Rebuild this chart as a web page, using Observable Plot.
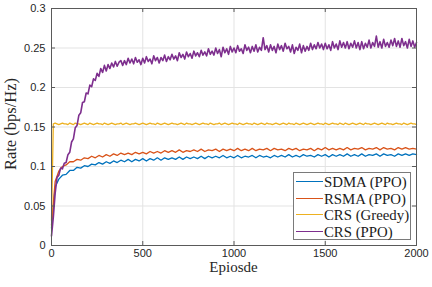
<!DOCTYPE html>
<html><head><meta charset="utf-8">
<script src="https://cdn.jsdelivr.net/npm/d3@7"></script>
<script src="https://cdn.jsdelivr.net/npm/@observablehq/plot@0.6"></script>
<style>
body{margin:0;background:#fff;}
#wrap{position:relative;width:432px;height:287px;overflow:hidden;background:#fff;}
.ttl{position:absolute;font-family:"Liberation Serif","Times New Roman",serif;color:#262626;white-space:nowrap;line-height:1;}
#legend{position:absolute;left:293px;top:172px;width:116px;height:66px;border:1px solid #7a7a7a;background:#fff;}
.row{position:absolute;left:0;height:16px;}
.row .sw{position:absolute;left:2px;top:7px;width:27px;height:0;border-top:1.6px solid;}
.row .tx{position:absolute;left:30px;top:0;font-family:"Liberation Serif","Times New Roman",serif;font-size:14.8px;line-height:16px;color:#1a1a1a;white-space:nowrap;}
</style></head><body><div id="wrap"></div>
<script>
const seriesNames = ["SDMA (PPO)", "RSMA (PPO)", "CRS (Greedy)", "CRS (PPO)"];
const seriesColors = ["#0072BD", "#D95319", "#EDB120", "#7E2F8E"];
const xTicks = [0, 500, 1000, 1500, 2000];
const yTicks = [0, 0.05, 0.1, 0.15, 0.2, 0.25, 0.3];
const xLabel = "Epiosde";
const yLabel = "Rate (bps/Hz)";

// episode spacing of each series (value i is at episode i*step)
const sdmaStep = 20, rsmaStep = 20, greedyStep = 10, crsPpoStep = 10;

const sdmaPPO = [
0.022,0.074,0.084,0.089,0.090,0.095,0.095,0.099,0.098,0.101,
0.100,0.103,0.102,0.105,0.103,0.106,0.104,0.107,0.105,0.108,
0.106,0.109,0.106,0.109,0.107,0.110,0.107,0.110,0.108,0.111,
0.108,0.111,0.109,0.111,0.109,0.112,0.109,0.112,0.110,0.112,
0.110,0.113,0.110,0.113,0.111,0.113,0.111,0.114,0.111,0.113,
0.111,0.114,0.111,0.113,0.112,0.114,0.111,0.114,0.112,0.113,
0.111,0.114,0.112,0.114,0.112,0.115,0.112,0.114,0.112,0.115,
0.113,0.114,0.112,0.115,0.113,0.115,0.112,0.115,0.113,0.115,
0.113,0.116,0.113,0.115,0.113,0.116,0.113,0.115,0.114,0.116,
0.113,0.116,0.114,0.115,0.113,0.116,0.114,0.116,0.114,0.116,
0.115];

const rsmaPPO = [
0.026,0.081,0.094,0.100,0.102,0.106,0.106,0.109,0.108,0.111,
0.110,0.113,0.111,0.114,0.112,0.115,0.113,0.116,0.114,0.117,
0.115,0.117,0.115,0.118,0.116,0.118,0.116,0.119,0.117,0.119,
0.117,0.120,0.118,0.120,0.118,0.121,0.118,0.120,0.119,0.121,
0.119,0.122,0.119,0.121,0.120,0.122,0.119,0.122,0.120,0.122,
0.120,0.123,0.120,0.122,0.120,0.123,0.120,0.122,0.121,0.123,
0.120,0.123,0.121,0.122,0.120,0.123,0.121,0.123,0.120,0.122,
0.121,0.123,0.120,0.123,0.121,0.124,0.121,0.123,0.121,0.123,
0.121,0.124,0.121,0.123,0.122,0.124,0.121,0.123,0.122,0.124,
0.121,0.124,0.122,0.123,0.121,0.124,0.122,0.124,0.122,0.123,
0.122];

const crsGreedy = [
0.032,
0.154,0.155,0.154,0.153,0.154,0.155,0.154,0.154,0.153,0.155,
0.154,0.153,0.155,0.154,0.154,0.153,0.154,0.155,0.154,0.153,
0.155,0.154,0.153,0.154,0.155,0.154,0.154,0.153,0.155,0.154,
0.153,0.154,0.155,0.154,0.153,0.154,0.154,0.155,0.153,0.154,
0.155,0.154,0.153,0.154,0.154,0.155,0.154,0.153,0.154,0.155,
0.154,0.153,0.154,0.155,0.154,0.154,0.153,0.155,0.154,0.153,
0.154,0.155,0.154,0.153,0.154,0.155,0.154,0.154,0.153,0.154,
0.155,0.154,0.153,0.155,0.154,0.154,0.153,0.154,0.155,0.154,
0.153,0.154,0.155,0.154,0.154,0.153,0.155,0.154,0.153,0.154,
0.154,0.155,0.153,0.154,0.155,0.154,0.153,0.154,0.155,0.154,
0.154,0.153,0.155,0.154,0.153,0.154,0.155,0.154,0.154,0.153,
0.155,0.154,0.153,0.154,0.155,0.154,0.153,0.155,0.154,0.154,
0.153,0.154,0.155,0.154,0.153,0.154,0.155,0.154,0.153,0.155,
0.154,0.154,0.153,0.155,0.154,0.153,0.154,0.155,0.154,0.153,
0.154,0.155,0.154,0.153,0.154,0.155,0.154,0.154,0.153,0.155,
0.154,0.153,0.154,0.155,0.154,0.154,0.153,0.155,0.154,0.153,
0.155,0.154,0.153,0.154,0.155,0.154,0.153,0.154,0.155,0.154,
0.153,0.155,0.154,0.154,0.153,0.154,0.155,0.154,0.153,0.154,
0.155,0.154,0.153,0.155,0.154,0.154,0.153,0.154,0.155,0.154,
0.154,0.153,0.155,0.154,0.153,0.154,0.155,0.154,0.154,0.153];

const crsPPO = [
0.012,0.036,0.066,0.086,0.089,0.098,0.097,0.104,0.105,0.115,
0.118,0.131,0.135,0.149,0.152,0.165,0.168,0.181,0.182,0.193,
0.192,0.203,0.201,0.211,0.209,0.218,0.214,0.224,0.219,0.228,
0.221,0.229,0.224,0.231,0.226,0.233,0.227,0.232,0.234,0.228,
0.234,0.229,0.237,0.231,0.236,0.230,0.238,0.232,0.235,0.229,
0.237,0.231,0.239,0.233,0.236,0.230,0.240,0.234,0.238,0.231,
0.238,0.234,0.241,0.233,0.239,0.235,0.242,0.236,0.240,0.234,
0.244,0.238,0.242,0.236,0.245,0.239,0.243,0.237,0.246,0.240,
0.244,0.239,0.247,0.241,0.245,0.240,0.249,0.242,0.246,0.241,
0.250,0.243,0.248,0.239,0.251,0.244,0.249,0.242,0.252,0.245,
0.250,0.244,0.253,0.246,0.249,0.243,0.254,0.247,0.251,0.244,
0.252,0.246,0.254,0.245,0.251,0.247,0.263,0.248,0.253,0.245,
0.254,0.247,0.252,0.244,0.255,0.248,0.253,0.246,0.256,0.249,
0.252,0.245,0.254,0.243,0.251,0.247,0.255,0.244,0.253,0.246,
0.252,0.247,0.256,0.248,0.254,0.249,0.257,0.250,0.255,0.248,
0.256,0.249,0.254,0.247,0.258,0.250,0.255,0.248,0.259,0.251,
0.257,0.250,0.258,0.249,0.256,0.251,0.259,0.250,0.257,0.248,
0.258,0.249,0.256,0.251,0.260,0.250,0.257,0.252,0.265,0.251,
0.258,0.250,0.261,0.252,0.257,0.251,0.260,0.253,0.262,0.252,
0.259,0.251,0.262,0.253,0.258,0.250,0.261,0.252,0.259,0.251,
0.257];

const toRows = (values, step) => values.map((v, i) => ({episode: i * step, rate: v}));
const seriesData = [
  toRows(sdmaPPO, sdmaStep),
  toRows(rsmaPPO, rsmaStep),
  toRows(crsGreedy, greedyStep),
  toRows(crsPPO, crsPpoStep)
];
const seriesWidths = [1.3, 1.3, 1.3, 1.6];

const W = 432, H = 287, mL = 51, mR = 16, mT = 8, mB = 42;
const pw = W - mL - mR, ph = H - mT - mB;
const axisColor = "#5a5a5a";
const tickLen = 4;

const chart = Plot.plot({
  width: W, height: H,
  marginLeft: mL, marginRight: mR, marginTop: mT, marginBottom: mB,
  style: {fontFamily: '"Liberation Sans", Arial, Helvetica, sans-serif', fontSize: "11px", color: "#262626", background: "#fff", overflow: "visible"},
  x: {domain: [0, 2000]},
  y: {domain: [0, 0.3]},
  marks: [
    Plot.gridX(xTicks, {stroke: "#e3e3e3", strokeOpacity: 1}),
    Plot.gridY(yTicks, {stroke: "#e3e3e3", strokeOpacity: 1}),
    ...seriesData.map((rows, k) => Plot.line(rows, {x: "episode", y: "rate", stroke: seriesColors[k], strokeWidth: seriesWidths[k]})),
    Plot.tickX(xTicks, {x: d => d, insetTop: ph - tickLen, stroke: axisColor}),
    Plot.tickX(xTicks, {x: d => d, insetBottom: ph - tickLen, stroke: axisColor}),
    Plot.tickY(yTicks, {y: d => d, insetRight: pw - tickLen, stroke: axisColor}),
    Plot.tickY(yTicks, {y: d => d, insetLeft: pw - tickLen, stroke: axisColor}),
    Plot.axisX(xTicks, {tickSize: 0, tickPadding: 4, label: null, tickFormat: d => String(d)}),
    Plot.axisY(yTicks, {tickSize: 0, tickPadding: 6, label: null, tickFormat: d => String(d)}),
    Plot.frame({stroke: axisColor})
  ]
});

const wrap = document.getElementById("wrap");
wrap.appendChild(chart);

const xl = document.createElement("div");
xl.className = "ttl";
xl.textContent = xLabel;
xl.style.fontSize = "15px";
xl.style.left = (mL + pw / 2) + "px";
xl.style.top = "259.5px";
xl.style.transform = "translateX(-50%)";
wrap.appendChild(xl);

const yl = document.createElement("div");
yl.className = "ttl";
yl.textContent = yLabel;
yl.style.fontSize = "16.5px";
yl.style.left = "10.5px";
yl.style.top = "124px";
yl.style.transform = "translate(-50%,-50%) rotate(-90deg)";
wrap.appendChild(yl);

const lg = document.createElement("div");
lg.id = "legend";
seriesNames.forEach((name, k) => {
  const r = document.createElement("div");
  r.className = "row";
  r.style.top = (1 + k * 16.5) + "px";
  const sw = document.createElement("div");
  sw.className = "sw";
  sw.style.borderTopColor = seriesColors[k];
  const tx = document.createElement("div");
  tx.className = "tx";
  tx.textContent = name;
  r.appendChild(sw); r.appendChild(tx);
  lg.appendChild(r);
});
wrap.appendChild(lg);
</script>
</body></html>
